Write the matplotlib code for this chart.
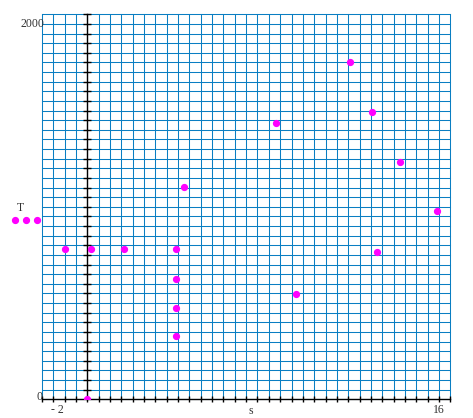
import numpy as np
import matplotlib
matplotlib.use("Agg")
import matplotlib.pyplot as plt

# data
s_vals = [-0.97, 0.14, 1.61, 3.89, 3.89, 3.89, 3.89, 4.24, 8.30, 9.18,
          11.56, 12.53, 12.77, 13.77, 15.40, 0.0]
T_vals = [801, 801, 801, 801, 641, 488, 339, 1133, 1472, 563,
          1797, 1531, 785, 1265, 1003, 0]

x_min, x_max = -2, 16
y_min, y_max = 0, 2051.3
n_xgrid = 36
n_ygrid = 40

grid_color = "#0A7EC2"
dot_color = "#FF00FF"

fig = plt.figure(figsize=(4.73, 4.18), dpi=100)
ax = fig.add_axes([42 / 473, 18.7 / 418, 408.3 / 473, 385 / 418])

ax.set_xlim(x_min, x_max)
ax.set_ylim(y_min, y_max)

# blue grid
for gx in np.linspace(x_min, x_max, n_xgrid + 1):
    ax.axvline(gx, color=grid_color, lw=0.75, zorder=1, clip_on=False,
               snap=True)
for gy in np.linspace(y_min, y_max, n_ygrid + 1):
    ax.axhline(gy, color=grid_color, lw=0.75, zorder=1, clip_on=False,
               snap=True)

# axes in black with crossing ticks
for sp in ["top", "right"]:
    ax.spines[sp].set_visible(False)
ax.spines["left"].set_position(("data", 0))
for sp in ["left", "bottom"]:
    ax.spines[sp].set_color("black")
    ax.spines[sp].set_linewidth(1.0)
    ax.spines[sp].set_zorder(3)

ax.set_xticks(np.linspace(x_min, x_max, n_xgrid + 1))
ax.set_yticks(np.linspace(y_min, y_max, n_ygrid + 1)[1:])
ax.tick_params(axis="x", direction="inout", length=4.3, width=1.0,
               color="black", labelbottom=False)
ax.tick_params(axis="y", direction="inout", length=5.8, width=1.0,
               color="black", labelleft=False)

# points
ax.plot(s_vals, T_vals, "o", color=dot_color, ms=4.2, mec=dot_color, zorder=5)

# labels
font = dict(family="Liberation Serif", fontsize=8.5, color="#333333")
fig.text(20 / 473, 1 - 24 / 418, "2000", ha="left", va="center", **font)
fig.text(36 / 473, 1 - 397 / 418, "0", ha="left", va="center", **font)
fig.text(57 / 473, 1 - 410 / 418, "- 2", ha="center", va="center", **font)
fig.text(439 / 473, 1 - 410 / 418, "16", ha="center", va="center", **font)
fig.text(251 / 473, 1 - 411 / 418, "s", ha="center", va="center", **font)
fig.text(20 / 473, 1 - 208 / 418, "T", ha="center", va="center", **font)

# legend-like dots beside the T label
for lx in [15, 26, 37]:
    fig.lines.append(plt.Line2D([lx / 473], [1 - 220 / 418], marker="o",
                                color=dot_color, ms=4.2,
                                transform=fig.transFigure))

fig.savefig("out.png", dpi=100)
